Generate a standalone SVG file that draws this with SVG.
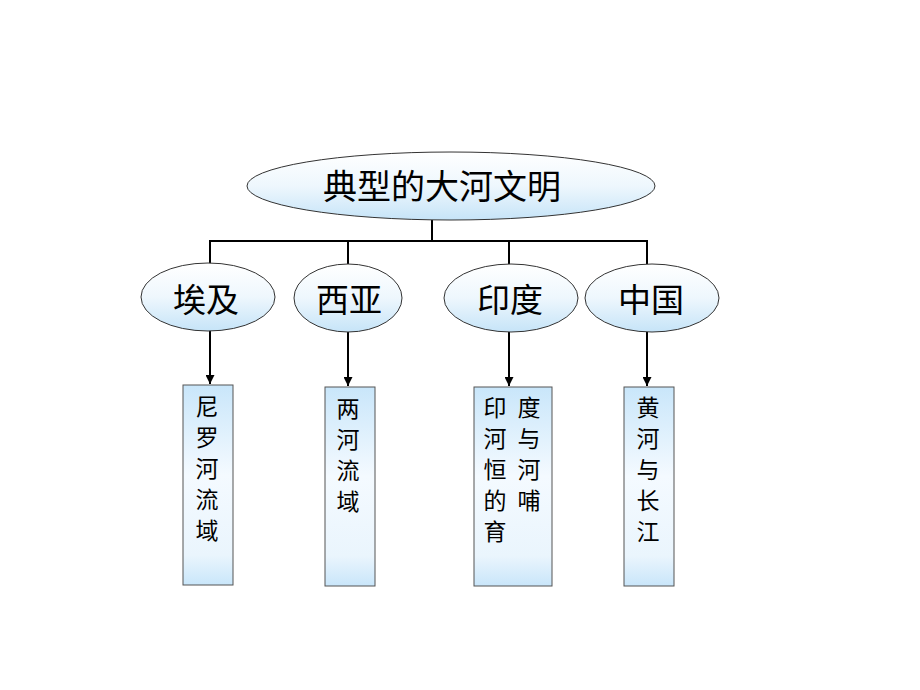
<svg xmlns="http://www.w3.org/2000/svg" width="920" height="690" viewBox="0 0 920 690">
<defs>
<linearGradient id="gEll" x1="0" y1="0" x2="0" y2="1">
<stop offset="0" stop-color="#ffffff"/>
<stop offset="0.5" stop-color="#eef7fd"/>
<stop offset="1" stop-color="#c6e4f8"/>
</linearGradient>
<linearGradient id="gBox" x1="0" y1="0" x2="0" y2="1">
<stop offset="0" stop-color="#c9e6fa"/>
<stop offset="0.45" stop-color="#f4faff"/>
<stop offset="0.85" stop-color="#eaf5fd"/>
<stop offset="1" stop-color="#c9e6fa"/>
</linearGradient>
<marker id="arr" viewBox="0 0 10 10" refX="10" refY="5" markerWidth="9" markerHeight="9" markerUnits="userSpaceOnUse" orient="auto">
<path d="M0,0 L10,5 L0,10 z" fill="#000"/>
</marker>
</defs>
<style>
.ell{fill:url(#gEll);stroke:#333;stroke-width:1}
.box{fill:url(#gBox);stroke:#555;stroke-width:1}
.ln{fill:none;stroke:#000;stroke-width:2}
.t{font-family:"Noto Sans CJK SC","Noto Sans",sans-serif;fill:#000;text-anchor:middle}
.big{font-size:34px}
.mid{font-size:33px}
.sm{font-size:23px}
</style>
<rect width="920" height="690" fill="#fff"/>
<g id="connectors">
<path class="ln" d="M432,220 V241 M210,241 H648 M210,240 V264 M348,240 V264 M509,240 V264 M647,240 V264"/>
<path class="ln" d="M210,330 V384" marker-end="url(#arr)"/>
<path class="ln" d="M348,332 V386" marker-end="url(#arr)"/>
<path class="ln" d="M509,332 V386" marker-end="url(#arr)"/>
<path class="ln" d="M647,332 V386" marker-end="url(#arr)"/>
</g>
<g id="root">
<ellipse class="ell" cx="451" cy="186" rx="204" ry="34"/>
<text class="t big" x="442" y="199">典型的大河文明</text>
</g>
<g id="egypt">
<ellipse class="ell" cx="208" cy="297" rx="67" ry="34"/>
<text class="t mid" x="206" y="312">埃及</text>
</g>
<g id="westasia">
<ellipse class="ell" cx="348" cy="298" rx="54" ry="34"/>
<text class="t mid" x="349" y="312">西亚</text>
</g>
<g id="india">
<ellipse class="ell" cx="511" cy="298" rx="67" ry="34"/>
<text class="t mid" x="510" y="312">印度</text>
</g>
<g id="china">
<ellipse class="ell" cx="652" cy="298" rx="67" ry="34"/>
<text class="t mid" x="651" y="312">中国</text>
</g>
<g id="nile">
<rect class="box" x="183" y="385" width="50" height="200"/>
<text class="t sm"><tspan x="207" y="415">尼</tspan><tspan x="207" y="446">罗</tspan><tspan x="207" y="477">河</tspan><tspan x="207" y="508">流</tspan><tspan x="207" y="539">域</tspan></text>
</g>
<g id="tworivers">
<rect class="box" x="325" y="387" width="50" height="199"/>
<text class="t sm"><tspan x="348" y="417">两</tspan><tspan x="348" y="448">河</tspan><tspan x="348" y="479">流</tspan><tspan x="348" y="510">域</tspan></text>
</g>
<g id="indus">
<rect class="box" x="474" y="387" width="78" height="199"/>
<text class="t sm"><tspan x="495" y="416">印</tspan><tspan x="529" y="416">度</tspan><tspan x="495" y="447">河</tspan><tspan x="529" y="447">与</tspan><tspan x="495" y="478">恒</tspan><tspan x="529" y="478">河</tspan><tspan x="495" y="509">的</tspan><tspan x="529" y="509">哺</tspan><tspan x="495" y="540">育</tspan></text>
</g>
<g id="yellow">
<rect class="box" x="624" y="387" width="50" height="199"/>
<text class="t sm"><tspan x="648" y="416">黄</tspan><tspan x="648" y="447">河</tspan><tspan x="648" y="478">与</tspan><tspan x="648" y="509">长</tspan><tspan x="648" y="540">江</tspan></text>
</g>
</svg>
